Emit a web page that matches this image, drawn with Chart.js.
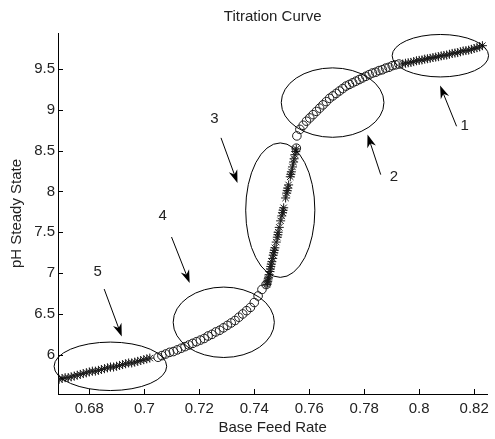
<!DOCTYPE html>
<html>
<head>
<meta charset="utf-8">
<script src="https://cdn.jsdelivr.net/npm/chart.js@4.4.1/dist/chart.umd.min.js"></script>
<style>
html, body { margin: 0; padding: 0; background: #fff; }
</style>
</head>
<body>
<canvas id="chartTitrasi" width="495" height="439"></canvas>
<script>
// '*' points: low plateau, steep jump, high plateau
var starX = [
    0.6690, 0.6701, 0.6712, 0.6723, 0.6734, 0.6745, 0.6756, 0.6767, 0.6778, 0.6789,
    0.6800, 0.6811, 0.6822, 0.6833, 0.6844, 0.6855, 0.6866, 0.6877, 0.6888, 0.6899,
    0.6910, 0.6921, 0.6932, 0.6943, 0.6954, 0.6965, 0.6976, 0.6987, 0.6998, 0.7009, 0.7020,
    0.7446, 0.7448, 0.7449, 0.7451, 0.7452, 0.7454, 0.7457, 0.7459, 0.7460, 0.7462,
    0.7464, 0.7467, 0.7469, 0.7471, 0.7473, 0.7475, 0.7480, 0.7484, 0.7486, 0.7487,
    0.7491, 0.7496, 0.7500, 0.7503, 0.7505, 0.7507, 0.7514, 0.7518, 0.7520, 0.7522,
    0.7525, 0.7531, 0.7533, 0.7535, 0.7539, 0.7543, 0.7545, 0.7548, 0.7551, 0.7553,
    0.7940, 0.7950, 0.7960, 0.7970, 0.7980, 0.7990, 0.8000, 0.8010, 0.8020, 0.8030,
    0.8040, 0.8050, 0.8060, 0.8070, 0.8080, 0.8090, 0.8100, 0.8110, 0.8120, 0.8130,
    0.8140, 0.8150, 0.8160, 0.8170, 0.8180, 0.8190, 0.8200, 0.8210, 0.8220, 0.8230
];
var starY = [
    5.70, 5.71, 5.72, 5.72, 5.73, 5.74, 5.75, 5.76, 5.77, 5.78,
    5.79, 5.80, 5.80, 5.81, 5.82, 5.83, 5.84, 5.85, 5.85, 5.86,
    5.87, 5.88, 5.89, 5.90, 5.90, 5.91, 5.92, 5.93, 5.94, 5.95, 5.96,
    6.86, 6.88, 6.90, 6.93, 6.95, 6.98, 7.02, 7.05, 7.08, 7.11,
    7.14, 7.18, 7.22, 7.25, 7.28, 7.31, 7.38, 7.44, 7.47, 7.50,
    7.56, 7.64, 7.70, 7.74, 7.77, 7.80, 7.92, 7.98, 8.01, 8.04,
    8.08, 8.18, 8.21, 8.24, 8.30, 8.36, 8.40, 8.45, 8.49, 8.52,
    9.56, 9.57, 9.575, 9.58, 9.59, 9.60, 9.605, 9.61, 9.62, 9.625,
    9.63, 9.64, 9.645, 9.65, 9.66, 9.665, 9.67, 9.68, 9.69, 9.695,
    9.70, 9.71, 9.72, 9.725, 9.73, 9.74, 9.75, 9.76, 9.77, 9.785
];

// 'o' points: the two bends
var circX = [
    0.7050, 0.7064, 0.7078, 0.7092, 0.7106, 0.7120, 0.7134, 0.7148, 0.7162, 0.7176,
    0.7190, 0.7204, 0.7218, 0.7232, 0.7246, 0.7260, 0.7274, 0.7288, 0.7302, 0.7316,
    0.7330, 0.7344, 0.7358, 0.7372, 0.7386, 0.7400, 0.7414, 0.7428, 0.7443,
    0.7553, 0.7555, 0.7566, 0.7578, 0.7590, 0.7602, 0.7614, 0.7626, 0.7638, 0.7650,
    0.7662, 0.7674, 0.7686, 0.7698, 0.7710, 0.7722, 0.7734, 0.7746, 0.7758, 0.7770,
    0.7782, 0.7794, 0.7806, 0.7818, 0.7830, 0.7842, 0.7854, 0.7866, 0.7878, 0.7890,
    0.7902, 0.7914, 0.7926
];
var circY = [
    5.97, 5.99, 6.01, 6.03, 6.04, 6.06, 6.08, 6.10, 6.12, 6.14,
    6.16, 6.18, 6.20, 6.23, 6.25, 6.28, 6.30, 6.33, 6.36, 6.39,
    6.42, 6.46, 6.50, 6.54, 6.58, 6.64, 6.72, 6.80, 6.86,
    8.53, 8.68, 8.76, 8.81, 8.86, 8.90, 8.94, 8.98, 9.02, 9.06,
    9.10, 9.14, 9.17, 9.20, 9.23, 9.26, 9.29, 9.31, 9.33, 9.35,
    9.37, 9.39, 9.41, 9.43, 9.45, 9.46, 9.48, 9.49, 9.51, 9.52,
    9.54, 9.55, 9.56
];

var xTicks = [0.68, 0.7, 0.72, 0.74, 0.76, 0.78, 0.8, 0.82];
var yTicks = [6, 6.5, 7, 7.5, 8, 8.5, 9, 9.5];

// region marks, in data units: centre, half width, half height
var ellipses = [
    { x: 0.8077, y: 9.662, rx: 0.01754, ry: 0.260 },
    { x: 0.7685, y: 9.088, rx: 0.01868, ry: 0.425 },
    { x: 0.74946, y: 7.771, rx: 0.01258, ry: 0.823 },
    { x: 0.7289, y: 6.398, rx: 0.0184, ry: 0.431 },
    { x: 0.68766, y: 5.859, rx: 0.02048, ry: 0.2966 }
];
// arrows: tail -> tip, with the number beside the tail
var arrows = [
    { label: '1', lx: 0.8165, ly: 8.798, x0: 0.8136, y0: 8.798, x1: 0.8076, y1: 9.297 },
    { label: '2', lx: 0.7908, ly: 8.173, x0: 0.7860, y0: 8.206, x1: 0.7812, y1: 8.696 },
    { label: '3', lx: 0.7255, ly: 8.892, x0: 0.7279, y0: 8.656, x1: 0.7339, y1: 8.104 },
    { label: '4', lx: 0.7067, ly: 7.695, x0: 0.7099, y0: 7.442, x1: 0.7165, y1: 6.879 },
    { label: '5', lx: 0.6830, ly: 7.013, x0: 0.6854, y0: 6.805, x1: 0.6918, y1: 6.224 }
];

function toPoints(xs, ys) {
    return xs.map(function (v, i) { return { x: v, y: ys[i] }; });
}

var FONT = "'Liberation Sans', Arial, Helvetica, sans-serif";
var INK = '#222';

var annotasi = {
    id: 'annotasi',
    afterDraw: function (chart) {
        var ctx = chart.ctx, sx = chart.scales.x, sy = chart.scales.y, a = chart.chartArea;
        ctx.save();
        ctx.strokeStyle = '#000';
        ctx.lineWidth = 1;

        // inward tick marks
        xTicks.forEach(function (v) {
            var px = Math.round(sx.getPixelForValue(v)) + 0.5;
            ctx.beginPath();
            ctx.moveTo(px, a.bottom);
            ctx.lineTo(px, a.bottom - 5);
            ctx.stroke();
        });
        yTicks.forEach(function (v) {
            var py = Math.round(sy.getPixelForValue(v)) + 0.5;
            ctx.beginPath();
            ctx.moveTo(a.left, py);
            ctx.lineTo(a.left + 5, py);
            ctx.stroke();
        });

        ellipses.forEach(function (e) {
            var cx = sx.getPixelForValue(e.x), cy = sy.getPixelForValue(e.y);
            var rx = Math.abs(sx.getPixelForValue(e.x + e.rx) - cx);
            var ry = Math.abs(sy.getPixelForValue(e.y + e.ry) - cy);
            ctx.beginPath();
            ctx.ellipse(cx, cy, rx, ry, 0, 0, Math.PI * 2);
            ctx.stroke();
        });

        ctx.fillStyle = '#000';
        arrows.forEach(function (r) {
            var x0 = sx.getPixelForValue(r.x0), y0 = sy.getPixelForValue(r.y0);
            var x1 = sx.getPixelForValue(r.x1), y1 = sy.getPixelForValue(r.y1);
            var ang = Math.atan2(y1 - y0, x1 - x0);
            var c = Math.cos(ang), s = Math.sin(ang);
            ctx.beginPath();
            ctx.moveTo(x0, y0);
            ctx.lineTo(x1 - c * 8, y1 - s * 8);
            ctx.stroke();
            ctx.beginPath();
            ctx.moveTo(x1, y1);
            ctx.lineTo(x1 - c * 13 + s * 4.5, y1 - s * 13 - c * 4.5);
            ctx.lineTo(x1 - c * 9, y1 - s * 9);
            ctx.lineTo(x1 - c * 13 - s * 4.5, y1 - s * 13 + c * 4.5);
            ctx.closePath();
            ctx.fill();
        });

        ctx.fillStyle = INK;
        ctx.font = '15px ' + FONT;
        ctx.textAlign = 'center';
        ctx.textBaseline = 'middle';
        arrows.forEach(function (r) {
            ctx.fillText(r.label, sx.getPixelForValue(r.lx), sy.getPixelForValue(r.ly));
        });
        ctx.restore();
    }
};

new Chart(document.getElementById('chartTitrasi').getContext('2d'), {
    type: 'scatter',
    data: {
        datasets: [
            {
                label: 'star',
                data: toPoints(starX, starY),
                pointStyle: 'star',
                pointRadius: 4.5,
                borderColor: '#1a1a1a',
                backgroundColor: '#1a1a1a',
                borderWidth: 1,
            },
            {
                label: 'circle',
                data: toPoints(circX, circY),
                pointStyle: 'circle',
                pointRadius: 4.3,
                borderColor: '#1a1a1a',
                backgroundColor: 'rgba(0,0,0,0)',
                borderWidth: 1,
            },
        ],
    },
    options: {
        responsive: false,
        animation: false,
        layout: { padding: { left: 0, right: 3, top: 0, bottom: 0 } },
        plugins: {
            legend: { display: false },
            tooltip: { enabled: false },
            title: {
                display: true,
                fullSize: false,
                text: 'Titration Curve',
                color: INK,
                font: { family: FONT, size: 15, weight: 'normal' },
                padding: { top: 7.7, bottom: 7.3 },
            },
        },
        scales: {
            x: {
                type: 'linear',
                min: 0.6686,
                max: 0.8248,
                afterBuildTicks: function (s) { s.ticks = xTicks.map(function (v) { return { value: v }; }); },
                afterFit: function (s) { s.height = 45; },
                ticks: {
                    color: INK,
                    font: { family: FONT, size: 15 },
                    padding: 6,
                    maxRotation: 0,
                    autoSkip: false,
                    callback: function (v) { return String(v); },
                },
                grid: { display: false, drawTicks: false },
                border: { display: true, color: '#000', width: 1 },
                title: {
                    display: true,
                    text: 'Base Feed Rate',
                    color: INK,
                    font: { family: FONT, size: 15 },
                    padding: { top: 0, bottom: 1.7 },
                },
            },
            y: {
                type: 'linear',
                min: 5.52,
                max: 9.94,
                afterBuildTicks: function (s) { s.ticks = yTicks.map(function (v) { return { value: v }; }); },
                afterFit: function (s) { s.width = 58; },
                ticks: {
                    color: INK,
                    font: { family: FONT, size: 15 },
                    padding: 3,
                    autoSkip: false,
                    callback: function (v) { return String(v); },
                },
                grid: { display: false, drawTicks: false },
                border: { display: true, color: '#000', width: 1 },
                title: {
                    display: true,
                    text: 'pH Steady State',
                    color: INK,
                    font: { family: FONT, size: 15 },
                    padding: { top: 7.7, bottom: 0 },
                },
            },
        },
    },
    plugins: [annotasi],
});
</script>
</body>
</html>
